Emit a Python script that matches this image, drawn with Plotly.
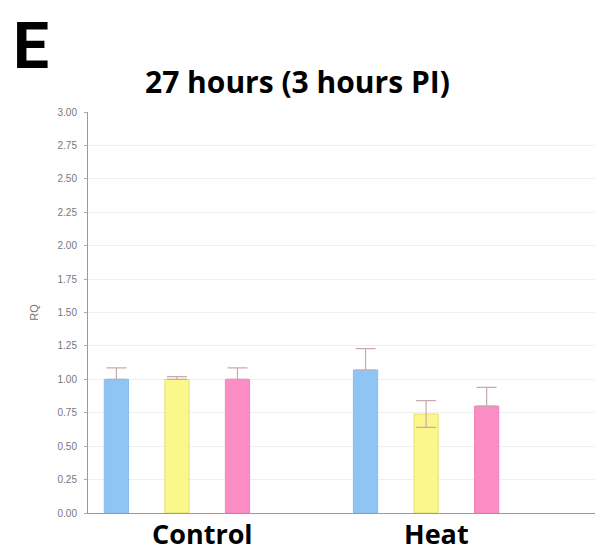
import plotly.graph_objects as go

groups = ["Control", "Heat"]
series_names = ["Series 1", "Series 2", "Series 3"]
colors = ["#8ec5f5", "#fbf78c", "#fb8dc4"]
edge_colors = ["#86bdee", "#e3df74", "#f185bb"]
values = [
    [1.00, 1.07],
    [1.00, 0.74],
    [1.00, 0.80],
]
errors_plus = [
    [0.085, 0.16],
    [0.02, 0.10],
    [0.085, 0.14],
]
errors_minus = [
    [0.0, 0.0],
    [0.0, 0.10],
    [0.0, 0.0],
]
yticks = [0, 0.25, 0.5, 0.75, 1.0, 1.25, 1.5, 1.75, 2.0, 2.25, 2.5, 2.75, 3.0]
ytick_labels = ["0.00", "0.25", "0.50", "0.75", "1.00", "1.25", "1.50", "1.75",
                "2.00", "2.25", "2.50", "2.75", "3.00"]

fig = go.Figure()
for name, col, ec, vals, ep, em in zip(series_names, colors, edge_colors, values,
                                       errors_plus, errors_minus):
    fig.add_trace(go.Bar(
        x=groups, y=vals, name=name,
        marker=dict(color=col, line=dict(color=ec, width=1)),
        error_y=dict(type="data", array=ep, arrayminus=em, symmetric=False, visible=True,
                     color="#c9a9ae", thickness=1.2, width=10),
    ))

W, H = 595, 546
L, T, B = 80, 104, 41
PW, PH = W - L, H - T - B

fig.update_layout(
    width=W, height=H,
    margin=dict(l=L, r=0, t=T, b=B),
    paper_bgcolor="white", plot_bgcolor="white",
    barmode="group", bargap=0.271, bargroupgap=0.6,
    showlegend=False,
    xaxis=dict(range=[-0.357, 1.71], showticklabels=False, ticks="",
               showline=True, linecolor="#9a9a9a", linewidth=1.2,
               showgrid=False, zeroline=False),
    yaxis=dict(range=[0, 3.0], tickvals=yticks, ticktext=ytick_labels,
               ticks="outside", ticklen=3, tickcolor="#aaaaaa", ticklabelstandoff=5,
               tickfont=dict(family="Liberation Sans", size=10, color="#777777"),
               showline=True, linecolor="#9a9a9a", linewidth=1,
               showgrid=True, gridcolor="#efefef", gridwidth=1,
               zeroline=False,
               title=dict(text="RQ", standoff=16,
                          font=dict(family="Liberation Sans", size=11, color="#777777"))),
)

fig.add_annotation(text="E", xref="paper", yref="paper", x=(4 - L) / PW, y=1 + T / PH,
                   xanchor="left", yanchor="top", showarrow=False, borderpad=0,
                   font=dict(family="Roboto", size=64, color="black", weight="bold"))
fig.add_annotation(text="27 hours (3 hours PI)", xref="paper", yref="paper",
                   x=(289 - L) / PW, y=1 + (T - 73) / PH, xanchor="center", yanchor="middle",
                   showarrow=False,
                   font=dict(family="Open Sans", size=30, color="black", weight="bold"))
for g, sh in zip(groups, [26, 10]):
    fig.add_annotation(text=g, x=g, xref="x", yref="paper", y=0, yshift=-1,
                       xshift=sh, xanchor="center", yanchor="top", showarrow=False,
                       borderpad=0,
                       font=dict(family="Open Sans", size=27, color="black", weight="bold"))

fig.write_html("out.html")
